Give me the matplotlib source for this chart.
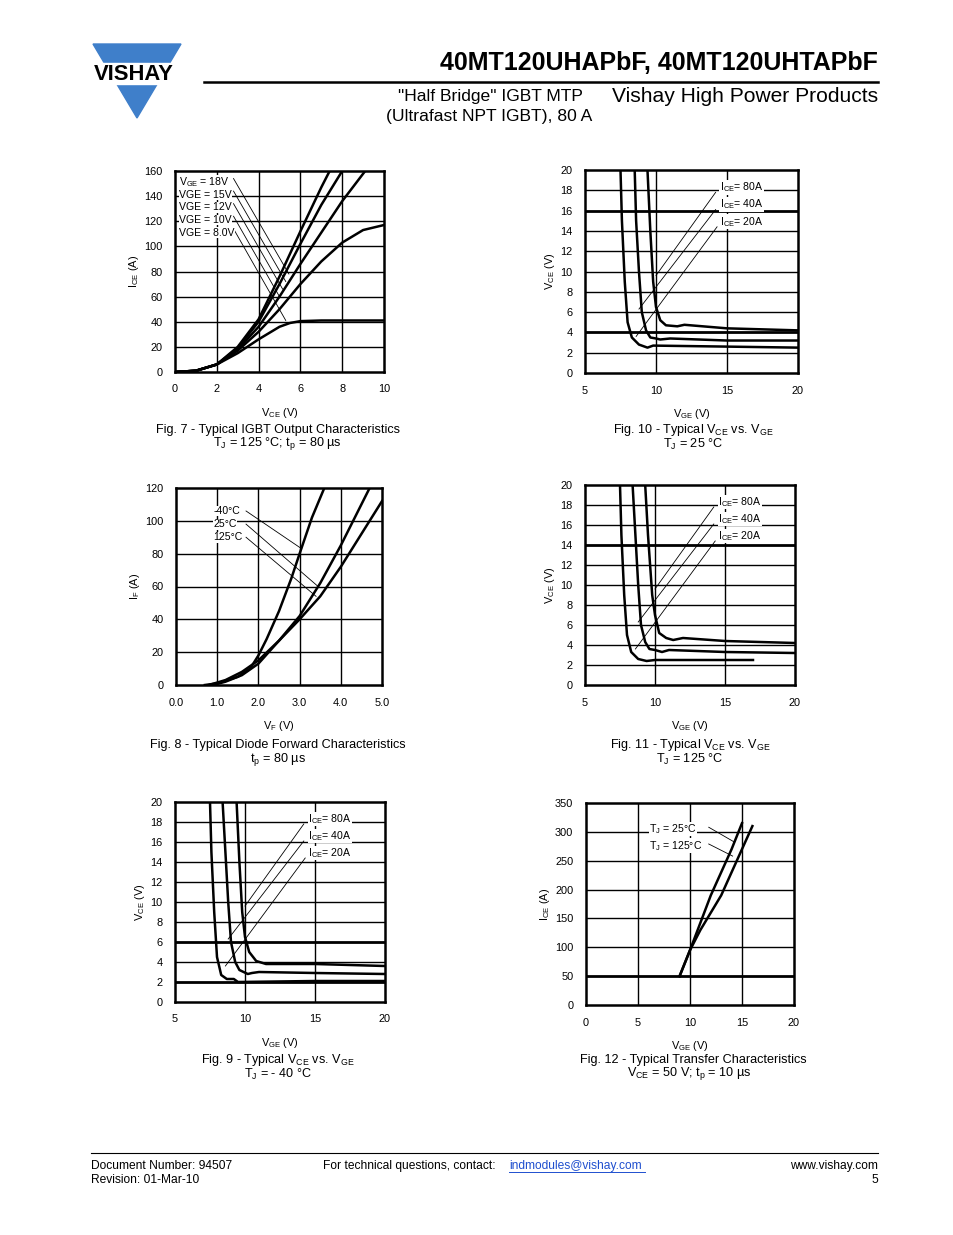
import matplotlib
matplotlib.use("Agg")
import matplotlib.pyplot as plt
from matplotlib.patches import Polygon

plt.rcParams['font.family'] = 'Liberation Sans'
plt.rcParams['mathtext.fontset'] = 'custom'
plt.rcParams['mathtext.rm'] = 'Liberation Sans'
plt.rcParams['mathtext.it'] = 'Liberation Sans'

W, H = 954, 1235

# ---------------- data ----------------
# Fig 7
f7_vge_labels = ["V$_{\\rm GE}$ = 18V", "VGE = 15V", "VGE = 12V", "VGE = 10V", "VGE = 8.0V"]
f7_v18 = [0, 1, 2, 3, 4, 5, 6, 7, 7.4]
f7_i18 = [0, 1, 6, 20, 42, 76, 112, 147, 160]
f7_v15 = [0, 1, 2, 3, 4, 5, 6, 7, 8.0]
f7_i15 = [0, 1, 6, 19, 40, 70, 102, 133, 160]
f7_v12 = [0, 1, 2, 3, 4, 5, 6, 7, 8, 9.1]
f7_i12 = [0, 1, 6, 18, 36, 60, 86, 111, 136, 160]
f7_v10 = [0, 1, 2, 3, 4, 5, 6, 7, 8, 9, 10]
f7_i10 = [0, 1, 6, 17, 32, 50, 70, 88, 103, 113, 117]
f7_v8 = [0, 1, 2, 3, 4, 5, 5.5, 6, 7, 10]
f7_i8 = [0, 1, 6, 15, 26, 36, 39, 40.5, 41, 41]

# Fig 8
f8_labels = ["-40°C", "25°C", "125°C"]
f8_v_m40 = [0.7, 1.0, 1.5, 1.8, 2.0, 2.2, 2.5, 2.8, 3.0, 3.3, 3.6]
f8_i_m40 = [0, 1, 5, 10, 18, 28, 45, 65, 80, 102, 120]
f8_v_25 = [0.9, 1.2, 1.6, 2.0, 2.5, 3.0, 3.5, 4.0, 4.3, 4.7]
f8_i_25 = [0, 2, 6, 13, 27, 42, 62, 85, 100, 120]
f8_v_125 = [0.8, 1.2, 1.6, 2.0, 2.5, 3.0, 3.5, 4.0, 4.5, 5.0]
f8_i_125 = [0, 3, 8, 15, 27, 40, 54, 72, 92, 112]

# Fig 9/10/11 labels
ice_labels = ["I$_{\\rm CE}$= 80A", "I$_{\\rm CE}$= 40A", "I$_{\\rm CE}$= 20A"]

# Fig 10 (TJ = 25 C)
f10_g80 = [9.4, 9.6, 9.8, 10.0, 10.3, 10.7, 11.5, 12, 15, 20]
f10_v80 = [20, 14, 9, 6.5, 5.2, 4.7, 4.6, 4.75, 4.4, 4.2]
f10_g40 = [8.5, 8.6, 8.8, 9.0, 9.3, 9.6, 10.0, 10.3, 11, 15, 20]
f10_v40 = [20, 15, 10, 6, 4.2, 3.5, 3.4, 3.3, 3.4, 3.2, 3.2]
f10_g20 = [7.5, 7.6, 7.8, 8.0, 8.3, 8.8, 9.4, 9.8, 15, 20]
f10_v20 = [20, 15, 9, 5, 3.5, 2.8, 2.5, 2.7, 2.6, 2.5]

# Fig 11 (TJ = 125 C)
f11_g80 = [9.3, 9.5, 9.8, 10.0, 10.3, 10.8, 11.3, 12, 15, 20]
f11_v80 = [20, 15, 9, 7, 5.2, 4.7, 4.5, 4.7, 4.4, 4.2]
f11_g40 = [8.4, 8.6, 8.8, 9.0, 9.3, 9.6, 10.0, 10.5, 11, 15, 20]
f11_v40 = [20, 15, 10, 6, 4.3, 3.6, 3.5, 3.3, 3.5, 3.3, 3.2]
f11_g20 = [7.5, 7.6, 7.8, 8.0, 8.3, 8.8, 9.4, 10, 17]
f11_v20 = [20, 15, 9, 5, 3.3, 2.6, 2.4, 2.5, 2.5]

# Fig 9 (TJ = -40 C)
f9_g80 = [9.4, 9.6, 9.8, 10.0, 10.3, 10.8, 11.5, 15, 20]
f9_v80 = [20, 14, 9, 6.5, 5, 4.1, 3.8, 3.8, 3.6]
f9_g40 = [8.4, 8.6, 8.8, 9.0, 9.3, 9.6, 10.2, 10.5, 11, 15, 20]
f9_v40 = [20, 15, 10, 6, 4, 3.2, 2.8, 2.9, 3.0, 2.9, 2.8]
f9_g20 = [7.5, 7.6, 7.8, 8.0, 8.3, 8.7, 9.2, 9.5, 15, 20]
f9_v20 = [20, 15, 9, 4.5, 2.7, 2.3, 2.3, 2.0, 2.1, 2.1]

# Fig 12
f12_labels = ["T$_{\\rm J}$ = 25°C", "T$_{\\rm J}$ = 125°C"]
f12_g25 = [9, 10, 12, 14, 15]
f12_i25 = [50, 95, 190, 270, 315]
f12_g125 = [9, 10, 11, 13, 16]
f12_i125 = [50, 95, 130, 190, 310]

# ---------------- figure ----------------
fig = plt.figure(figsize=(W / 100, H / 100), dpi=100)
PT = 0.72

def ax_px(l, t, r, b):
    return fig.add_axes([l / W, 1 - b / H, (r - l) / W, (b - t) / H])

def ftext(x, y, s, size, **kw):
    fig.text(x / W, 1 - y / H, s, fontsize=size * PT, **kw)

def style(ax, xlim, ylim, xticks, yticks, xlabels, xgrid, ygrid, thick=()):
    ax.set_xlim(*xlim); ax.set_ylim(*ylim)
    ax.set_xticks(xticks); ax.set_xticklabels(xlabels)
    ax.set_yticks(yticks)
    ax.tick_params(length=0, labelsize=11 * PT, pad=9)
    for s in ax.spines.values():
        s.set_linewidth(1.8)
    for g in xgrid:
        ax.axvline(g, color='black', lw=1.0, zorder=1)
    for g in ygrid:
        ax.axhline(g, color='black', lw=2.0 if g in thick else 1.0, zorder=1)

def leader(ax, xy_text, xy_end):
    ax.plot([xy_text[0], xy_end[0]], [xy_text[1], xy_end[1]], color='black', lw=0.6, zorder=3)

curve_kw = dict(color='black', lw=1.8, zorder=4)

# ---- Header ----
logo = Polygon([[93 / W, 1 - 44 / H], [181 / W, 1 - 44 / H], [137 / W, 1 - 118 / H]],
               closed=True, transform=fig.transFigure, color='#3f7fca')
fig.patches.append(logo)
fig.patches.append(plt.Rectangle((88 / W, 1 - 84 / H), 96 / W, 21 / H, transform=fig.transFigure,
                                 color='white'))
ftext(134, 74, "VISHAY", 22, weight='bold', ha='center', va='center')
ftext(878, 63, "40MT120UHAPbF, 40MT120UHTAPbF", 25, weight='bold', ha='right', va='center')
fig.add_artist(plt.Line2D([204 / W, 878 / W], [1 - 82 / H, 1 - 82 / H], color='black', lw=1.8))
ftext(583, 96, "\"Half Bridge\" IGBT MTP", 17.5, ha='right', va='center')
ftext(592, 117, "(Ultrafast NPT IGBT), 80 A", 17.5, ha='right', va='center')
ftext(878, 97, "Vishay High Power Products", 21, ha='right', va='center')

CAP = 12.6

# ---- Fig 7 ----
ax = ax_px(175, 171, 384, 372)
style(ax, (0, 10), (0, 160), [0, 2, 4, 6, 8, 10], range(0, 161, 20), ["0", "2", "4", "6", "8", "10"],
      [2, 4, 6, 8], range(20, 160, 20))
for xs, ys in [(f7_v18, f7_i18), (f7_v15, f7_i15), (f7_v12, f7_i12), (f7_v10, f7_i10), (f7_v8, f7_i8)]:
    ax.plot(xs, ys, **curve_kw)
lab_y = [151, 141, 131, 121, 111]
ends = [(5.45, 78), (5.3, 72), (5.15, 66), (5.0, 60), (5.3, 41)]
for lab, yy, e in zip(f7_vge_labels, lab_y, ends):
    ax.text(0.2, yy, lab, fontsize=10.5 * PT, va='center', zorder=5,
            bbox=dict(facecolor='white', edgecolor='none', pad=0.3))
    leader(ax, (2.8, yy + 3), e)
ax.set_xlabel("V$_{\\rm CE}$ (V)", fontsize=11 * PT, labelpad=8)
ax.set_ylabel("I$_{\\rm CE}$ (A)", fontsize=11 * PT, labelpad=2)
ftext(278, 430, "Fig. 7 - Typical IGBT Output Characteristics", CAP, ha='center', va='center')
ftext(277, 444, "T$_{\\rm J}$ = 125 °C; t$_{\\rm p}$ = 80 µs", CAP, ha='center', va='center')

# ---- Fig 8 ----
ax = ax_px(176, 488, 382, 685)
style(ax, (0, 5), (0, 120), [0, 1, 2, 3, 4, 5], range(0, 121, 20),
      ["0.0", "1.0", "2.0", "3.0", "4.0", "5.0"], [1, 2, 3, 4], range(20, 120, 20))
for xs, ys in [(f8_v_m40, f8_i_m40), (f8_v_25, f8_i_25), (f8_v_125, f8_i_125)]:
    ax.plot(xs, ys, **curve_kw)
lab_y = [106, 98, 90]
ends = [(3.05, 83), (3.45, 60), (3.4, 54)]
for lab, yy, e in zip(f8_labels, lab_y, ends):
    ax.text(0.9, yy, lab, fontsize=10.5 * PT, va='center', zorder=5,
            bbox=dict(facecolor='white', edgecolor='none', pad=0.3))
    leader(ax, (1.7, yy), e)
ax.set_xlabel("V$_{\\rm F}$ (V)", fontsize=11 * PT, labelpad=8)
ax.set_ylabel("I$_{\\rm F}$ (A)", fontsize=11 * PT, labelpad=2)
ftext(278, 745, "Fig. 8 - Typical Diode Forward Characteristics", CAP, ha='center', va='center')
ftext(278, 759, "t$_{\\rm p}$ = 80 µs", CAP, ha='center', va='center')

# ---- VCE vs VGE helper ----
def vce_plot(box, curves, thick, cap1, cap2, capx, capy):
    ax = ax_px(*box)
    style(ax, (5, 20), (0, 20), [5, 10, 15, 20], range(0, 21, 2), ["5", "10", "15", "20"],
          [10, 15], range(2, 20, 2), thick)
    for xs, ys in curves:
        ax.plot(xs, ys, **curve_kw)
    lab_y = [18.3, 16.6, 14.9]
    starts = [(14.2, 17.8), (14.2, 16.1), (14.3, 14.4)]
    ends = [(10.0, 9.6), (8.8, 6.3), (8.6, 3.6)]
    for lab, yy, s, e in zip(ice_labels, lab_y, starts, ends):
        ax.text(14.5, yy, lab, fontsize=10.5 * PT, va='center', zorder=5,
                bbox=dict(facecolor='white', edgecolor='none', pad=0.3))
        leader(ax, s, e)
    ax.set_xlabel("V$_{\\rm GE}$ (V)", fontsize=11 * PT, labelpad=8)
    ax.set_ylabel("V$_{\\rm CE}$ (V)", fontsize=11 * PT, labelpad=2)
    ftext(capx, capy, cap1, CAP, ha='center', va='center')
    ftext(capx, capy + 14, cap2, CAP, ha='center', va='center')

vce_plot((585, 170, 798, 373), [(f10_g80, f10_v80), (f10_g40, f10_v40), (f10_g20, f10_v20)], (4, 16),
         "Fig. 10 - Typical V$_{\\rm CE}$ vs. V$_{\\rm GE}$", "T$_{\\rm J}$ = 25 °C", 693, 430)
vce_plot((585, 485, 795, 685), [(f11_g80, f11_v80), (f11_g40, f11_v40), (f11_g20, f11_v20)], (14,),
         "Fig. 11 - Typical V$_{\\rm CE}$ vs. V$_{\\rm GE}$", "T$_{\\rm J}$ = 125 °C", 690, 745)
vce_plot((175, 802, 385, 1002), [(f9_g80, f9_v80), (f9_g40, f9_v40), (f9_g20, f9_v20)], (2, 6),
         "Fig. 9 - Typical V$_{\\rm CE}$ vs. V$_{\\rm GE}$", "T$_{\\rm J}$ = - 40 °C", 278, 1060)

# ---- Fig 12 ----
ax = ax_px(586, 803, 794, 1005)
style(ax, (0, 20), (0, 350), [0, 5, 10, 15, 20], range(0, 351, 50), ["0", "5", "10", "15", "20"],
      [5, 10, 15], range(50, 350, 50), (50,))
ax.plot(f12_g25, f12_i25, **curve_kw)
ax.plot(f12_g125, f12_i125, **curve_kw)
for lab, yy, e in zip(f12_labels, [305, 276], [(14.2, 283), (14.1, 258)]):
    ax.text(6.1, yy, lab, fontsize=10.5 * PT, va='center', zorder=5,
            bbox=dict(facecolor='white', edgecolor='none', pad=0.3))
    leader(ax, (11.8, yy + 3), e)
ax.set_xlabel("V$_{\\rm GE}$ (V)", fontsize=11 * PT, labelpad=8)
ax.set_ylabel("I$_{\\rm CE}$ (A)", fontsize=11 * PT, labelpad=2)
ftext(693, 1060, "Fig. 12 - Typical Transfer Characteristics", CAP, ha='center', va='center')
ftext(689, 1074, "V$_{\\rm CE}$ = 50 V; t$_{\\rm p}$ = 10 µs", CAP, ha='center', va='center')

# ---- Footer ----
fig.add_artist(plt.Line2D([91 / W, 878 / W], [1 - 1153 / H, 1 - 1153 / H], color='black', lw=0.8))
ftext(91, 1166, "Document Number: 94507", 12, va='center')
ftext(91, 1180, "Revision: 01-Mar-10", 12, va='center')
ftext(323, 1166, "For technical questions, contact:", 12, va='center')
ftext(509, 1166, "indmodules@vishay.com", 12, va='center', color='#1f4fcf')
fig.add_artist(plt.Line2D([509 / W, 645 / W], [1 - 1172 / H, 1 - 1172 / H], color='#1f4fcf', lw=0.7))
ftext(878, 1166, "www.vishay.com", 12, va='center', ha='right')
ftext(878, 1180, "5", 12, va='center', ha='right')

fig.savefig("out.png", dpi=100)
